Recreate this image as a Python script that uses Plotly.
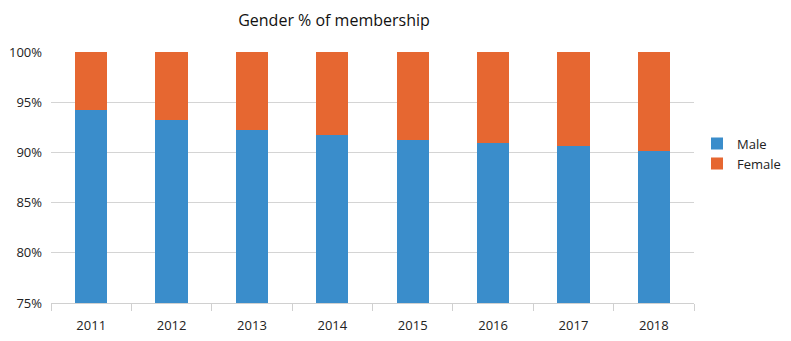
import plotly.graph_objects as go

years = ["2011", "2012", "2013", "2014", "2015", "2016", "2017", "2018"]
male = [94.2, 93.2, 92.2, 91.7, 91.2, 90.9, 90.6, 90.1]
female = [round(100 - m, 1) for m in male]
y_ticks = [75, 80, 85, 90, 95, 100]
y_labels = ["75%", "80%", "85%", "90%", "95%", "100%"]

font_family = "Open Sans, Noto Sans, sans-serif"

fig = go.Figure()
fig.add_trace(go.Bar(x=years, y=male, name="Male", marker_color="#3A8DCB",
                     marker_line_width=0))
fig.add_trace(go.Bar(x=years, y=female, name="Female", marker_color="#E66731",
                     marker_line_width=0))

fig.update_layout(
    width=791, height=341,
    barmode="stack",
    bargap=0.6,
    paper_bgcolor="white",
    plot_bgcolor="white",
    margin=dict(l=51, r=97, t=52, b=38, autoexpand=False),
    font=dict(family=font_family, size=13, color="#222222"),
    title=dict(text="Gender % of membership", x=334/791, xanchor="center",
               y=1 - 20/341, yanchor="middle",
               font=dict(size=16, color="#111111", family=font_family)),
    legend=dict(xref="container", x=697 / 791, y=0.595, yanchor="middle",
                xanchor="left", traceorder="normal", font=dict(size=13),
                itemwidth=30, tracegroupgap=0, bgcolor="rgba(0,0,0,0)"),
    showlegend=True,
)
fig.update_xaxes(type="category", showgrid=False, showline=True, linecolor="#d0d0d0",
                 linewidth=1, ticks="outside", tickson="boundaries", ticklen=7,
                 tickcolor="#d0d0d0", tickfont=dict(size=13), ticklabelstandoff=10,
                 automargin=False)
fig.update_yaxes(range=[75, 100], tickvals=y_ticks, ticktext=y_labels,
                 showgrid=True, gridcolor="#d4d4d4", gridwidth=1, zeroline=False,
                 showline=False, ticks="", ticklabelstandoff=8,
                 tickfont=dict(size=13), automargin=False)

fig.write_html("out.html")
